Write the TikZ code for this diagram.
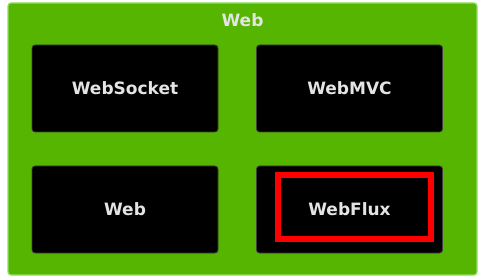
\documentclass[tikz,border=0pt]{standalone}
\usepackage{fontspec}
\setmainfont{DejaVu Sans}
\definecolor{webgreen}{HTML}{55B500}
\definecolor{webedge}{HTML}{8FE060}
\definecolor{labelgrey}{HTML}{E4E4E4}
\begin{document}
\begin{tikzpicture}[x=1pt,y=-1pt,
    label font/.style={text=labelgrey, font=\fontsize{17}{19}\selectfont\bfseries},
    module/.style={rectangle, rounded corners=3pt, fill=black, draw=black!75,
      line width=0.8pt, minimum width=186pt, minimum height=87pt, label font}]
  \useasboundingbox (0,0) rectangle (494,280);
  \node (web) at (242.5,139) [rectangle, rounded corners=3pt, fill=webgreen,
    draw=webedge, line width=1.2pt, minimum width=469pt, minimum height=272pt] {};
  \node (title) at (242.5,20) [label font] {Web};
  \node (socket) at (125,88.5) [module] {WebSocket};
  \node (mvc) at (349.5,88.5) [module] {WebMVC};
  \node (servlet) at (125,209.5) [module] {Web};
  \node (flux) at (349.5,209.5) [module] {WebFlux};
  % red frame around WebFlux
  \node (mark) at (354.5,207) [rectangle, draw=red, line width=6pt,
    minimum width=153pt, minimum height=64pt] {};
\end{tikzpicture}
\end{document}
